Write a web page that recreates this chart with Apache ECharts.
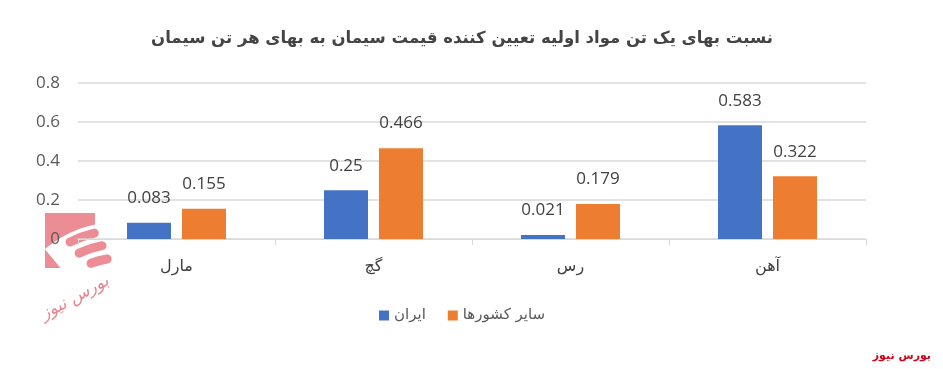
<!DOCTYPE html>
<html>
<head>
<meta charset="utf-8">
<script src="https://cdn.jsdelivr.net/npm/echarts@6/dist/echarts.min.js"></script>
<style>html,body{margin:0;padding:0;background:#fff}#c{width:943px;height:369px}</style>
</head>
<body>
<div id="c"></div>
<script>
var titleText = 'نسبت بهای یک تن مواد اولیه تعیین کننده قیمت سیمان به بهای هر تن سیمان';
var categories = ['مارل', 'گچ', 'رس', 'آهن'];
var iranName = 'ایران';
var otherName = 'سایر کشورها';
var iranValues = [0.083, 0.25, 0.021, 0.583];
var otherValues = [0.155, 0.466, 0.179, 0.322];
var yTicks = [0, 0.2, 0.4, 0.6, 0.8];
var sourceText = 'بورس نیوز';

var chart = echarts.init(document.getElementById('c'));
var font = '"DejaVu Sans", "Noto Sans", sans-serif';
var numFont = '"Open Sans", "DejaVu Sans", sans-serif';
var labelStyle = {show: true, position: 'top', distance: 16, color: '#404040', fontSize: 17, fontFamily: numFont};
var pink = '#ec8d95';
var C = [120, 340];
function ring(r, a0, a1, w) {
  return {type: 'arc', z: -5, silent: true,
    shape: {cx: C[0], cy: C[1], r: r, startAngle: a0 * Math.PI, endAngle: a1 * Math.PI},
    style: {stroke: pink, lineWidth: w, fill: null, lineCap: 'round'}};
}
chart.setOption({
  animation: false,
  backgroundColor: '#fff',
  title: {
    text: titleText, left: 457, top: 25, textAlign: 'center',
    textStyle: {fontSize: 16.5, fontWeight: 'bold', color: '#444', fontFamily: font}
  },
  grid: {left: 78, right: 77, top: 83, bottom: 130},
  legend: {
    data: [iranName, otherName], left: 374, top: 303,
    itemWidth: 10, itemHeight: 10, itemGap: 22, icon: 'rect',
    textStyle: {fontSize: 15, color: '#595959', fontFamily: font}
  },
  xAxis: {
    type: 'category', data: categories,
    axisLine: {lineStyle: {color: '#d9d9d9', width: 1}},
    axisTick: {show: true, length: 6, lineStyle: {color: '#d9d9d9'}},
    axisLabel: {fontSize: 16, color: '#404040', margin: 20, fontFamily: font}
  },
  yAxis: {
    type: 'value', min: 0, max: 0.8, interval: 0.2,
    axisLabel: {fontSize: 17, color: '#595959', margin: 18, fontFamily: numFont,
      formatter: function (v) { var i = yTicks.indexOf(Math.round(v * 10) / 10); return i >= 0 ? String(yTicks[i]) : ''; }},
    splitLine: {lineStyle: {color: '#d9d9d9', width: 1.5}},
    axisLine: {show: false}, axisTick: {show: false}
  },
  series: [
    {name: iranName, type: 'bar', data: iranValues, barWidth: 44, barGap: '25%',
     itemStyle: {color: '#4472c4'}, label: labelStyle},
    {name: otherName, type: 'bar', data: otherValues, barWidth: 44,
     itemStyle: {color: '#ed7d31'}, label: labelStyle}
  ],
  graphic: [
    {type: 'rect', z: -8, silent: true, shape: {x: 45, y: 213, width: 50, height: 55}, style: {fill: pink}},
    {type: 'sector', z: -7, silent: true, shape: {cx: C[0], cy: C[1], r0: 70, r: 118, startAngle: Math.PI * 1.28, endAngle: Math.PI * 1.5}, style: {fill: '#fff'}},
    ring(110, 1.35, 1.425, 9),
    ring(96, 1.36, 1.44, 9),
    ring(82, 1.385, 1.45, 9),
    {type: 'text', z: -5, silent: true, x: 75, y: 298, rotation: 0.5, style: {text: sourceText, fill: '#e36f79', opacity: 0.85, fontSize: 17, fontStyle: 'italic', fontFamily: font, textAlign: 'center', textVerticalAlign: 'middle'}},
    {type: 'text', right: 12, top: 351, style: {text: sourceText, fill: '#d0021b', fontSize: 11, fontWeight: 'bold', fontFamily: font}}
  ]
});
</script>
</body>
</html>
